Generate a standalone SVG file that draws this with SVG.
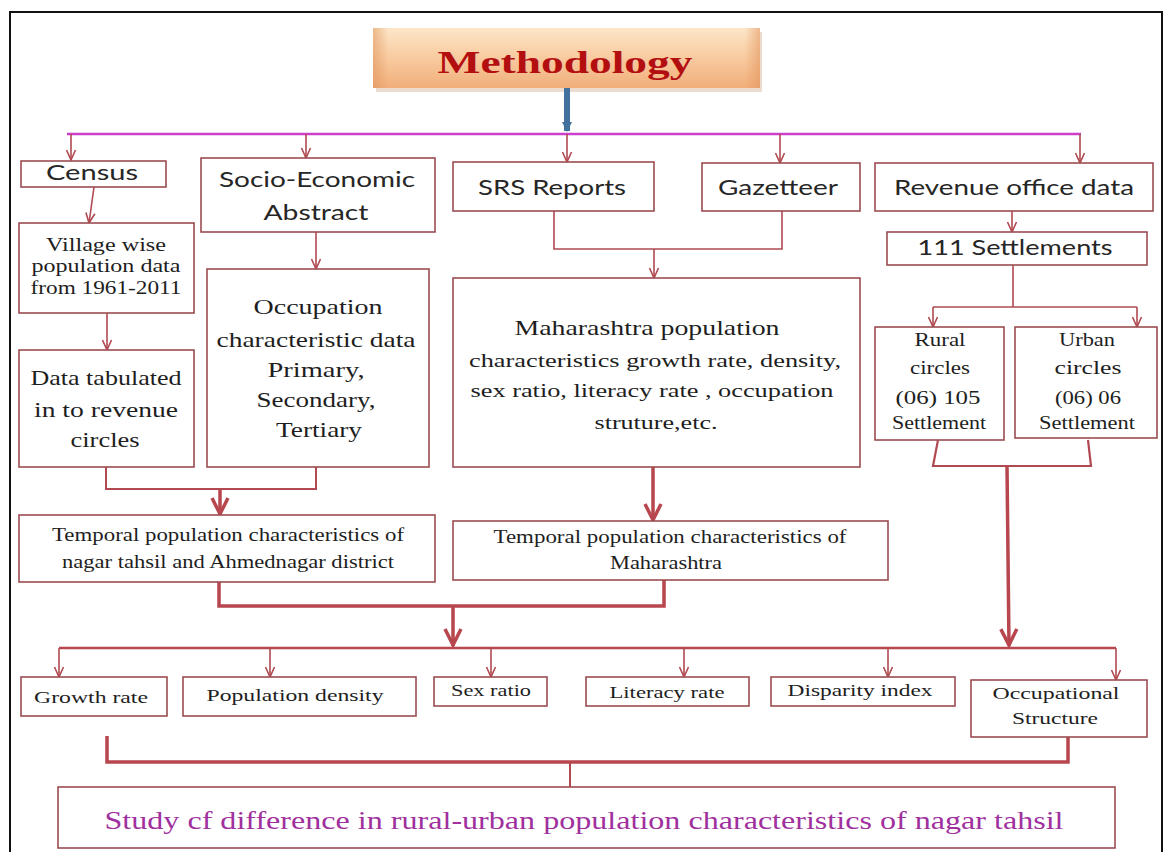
<svg xmlns="http://www.w3.org/2000/svg" width="1166" height="852" viewBox="0 0 1166 852">
<defs>
<linearGradient id="gMeth" x1="0" y1="0" x2="0" y2="1">
<stop offset="0" stop-color="#fde6c8"/>
<stop offset="0.45" stop-color="#f9cda3"/>
<stop offset="1" stop-color="#f1ae7a"/>
</linearGradient>
<linearGradient id="gBevel" x1="0" y1="0" x2="1" y2="0">
<stop offset="0" stop-color="#e0935c" stop-opacity="0.55"/>
<stop offset="0.04" stop-color="#e0935c" stop-opacity="0"/>
<stop offset="0.96" stop-color="#e0935c" stop-opacity="0"/>
<stop offset="1" stop-color="#e0935c" stop-opacity="0.55"/>
</linearGradient>
<marker id="ah" markerWidth="12" markerHeight="12" viewBox="0 0 12 12" refX="11" refY="6" orient="auto" markerUnits="userSpaceOnUse">
<path d="M1,1.5 L11,6 L1,10.5" fill="none" stroke="#b04a50" stroke-width="1.6"/>
</marker>
<marker id="ahT" markerWidth="22" markerHeight="22" viewBox="0 0 22 22" refX="20" refY="11" orient="auto" markerUnits="userSpaceOnUse">
<path d="M3,3 L19,11 L3,19" fill="none" stroke="#b8464e" stroke-width="3.5"/>
</marker>
<marker id="ahB" markerWidth="12" markerHeight="12" viewBox="0 0 12 12" refX="10" refY="6" orient="auto" markerUnits="userSpaceOnUse">
<path d="M1,1 L11,6 L1,11 Z" fill="#41719c"/>
</marker>
</defs>
<style>
.box{fill:#ffffff;stroke:#9c4d52;stroke-width:1.6}
.sans{font-family:Lato,"Liberation Sans",sans-serif;fill:#262626;text-anchor:middle}
.serif{font-family:"Liberation Serif",serif;fill:#1e1e1e;text-anchor:middle}
.c{fill:none;stroke:#b04a50;stroke-width:1.6}
.ct{fill:none;stroke:#b8464e;stroke-width:3.5}
.cm{fill:none;stroke:#b8464e;stroke-width:2.5}
</style>
<rect x="0" y="0" width="1166" height="852" fill="#ffffff"/>
<rect x="10" y="12" width="1152" height="850" fill="none" stroke="#111111" stroke-width="2"/>

<g id="methodology">
<rect x="376" y="32" width="386" height="60" fill="#d9b9a0" opacity="0.5"/>
<rect x="373" y="28" width="387" height="60" fill="url(#gMeth)"/>
<rect x="373" y="28" width="387" height="60" fill="url(#gBevel)"/>
<text x="565" y="73" font-family="'Liberation Serif',serif" font-weight="bold" font-size="32" fill="#b40f10" text-anchor="middle" textLength="255" lengthAdjust="spacingAndGlyphs">Methodology</text>
</g>

<g id="connectors">
<line x1="567" y1="88" x2="567" y2="131" stroke="#41719c" stroke-width="6" marker-end="url(#ahB)"/>
<line x1="67" y1="134" x2="1081" y2="134" stroke="#cc3fcc" stroke-width="2.5"/>
<path class="c" d="M71,134 V160" marker-end="url(#ah)"/>
<path class="c" d="M306,134 V158" marker-end="url(#ah)"/>
<path class="c" d="M567,134 V162" marker-end="url(#ah)"/>
<path class="c" d="M780,134 V163" marker-end="url(#ah)"/>
<path class="c" d="M1080,134 V163" marker-end="url(#ah)"/>
<path class="c" d="M94,187 L89,223" marker-end="url(#ah)"/>
<path class="c" d="M107,313 V350" marker-end="url(#ah)"/>
<path class="c" d="M316,232 V269" marker-end="url(#ah)"/>
<path class="c" d="M554,211 V249 H782 V211"/>
<path class="c" d="M654,249 V278" marker-end="url(#ah)"/>
<path class="c" d="M1012,211 V232" marker-end="url(#ah)"/>
<path class="c" d="M1013,265 V307"/>
<path class="c" d="M933,307 H1137"/>
<path class="c" d="M933,307 V327" marker-end="url(#ah)"/>
<path class="c" d="M1137,307 V327" marker-end="url(#ah)"/>
<path class="c" d="M106,467 V489 H316 V467" style="stroke-width:2"/>
<path class="ct" d="M220,489 V515" marker-end="url(#ahT)"/>
<path class="ct" d="M653,467 V521" marker-end="url(#ahT)"/>
<path class="c" d="M938,440 L933,466 H1091 L1088,440" style="stroke-width:2.2"/>
<path class="ct" d="M1007,466 L1009,646" marker-end="url(#ahT)"/>
<path class="ct" d="M219,582 V606 H664 V580"/>
<path class="ct" d="M453,606 V646" marker-end="url(#ahT)"/>
<path class="cm" d="M59,648 H1116"/>
<path class="c" d="M59,648 V677" marker-end="url(#ah)"/>
<path class="c" d="M270,648 V677" marker-end="url(#ah)"/>
<path class="c" d="M491,648 V677" marker-end="url(#ah)"/>
<path class="c" d="M684,648 V677" marker-end="url(#ah)"/>
<path class="c" d="M888,648 V677" marker-end="url(#ah)"/>
<path class="c" d="M1116,648 V680" marker-end="url(#ah)"/>
<path class="ct" d="M107,736 V762 H1068 V737"/>
<path class="c" d="M570,762 V788" style="stroke-width:2"/>
</g>

<g id="census"><rect class="box" x="21" y="161" width="145" height="26"/><text class="sans" x="92" y="180" font-size="21" textLength="92" lengthAdjust="spacingAndGlyphs">Census</text></g>
<g id="socio"><rect class="box" x="201" y="158" width="234" height="74"/><text class="sans" x="317" y="187" font-size="21" textLength="196" lengthAdjust="spacingAndGlyphs">Socio-Economic</text><text class="sans" x="316" y="220" font-size="21" textLength="105" lengthAdjust="spacingAndGlyphs">Abstract</text></g>
<g id="srs"><rect class="box" x="453" y="162" width="201" height="49"/><text class="sans" x="552" y="195" font-size="21" textLength="148" lengthAdjust="spacingAndGlyphs">SRS Reports</text></g>
<g id="gazetteer"><rect class="box" x="702" y="163" width="158" height="48"/><text class="sans" x="778" y="195" font-size="21" textLength="120" lengthAdjust="spacingAndGlyphs">Gazetteer</text></g>
<g id="revenue"><rect class="box" x="875" y="163" width="278" height="48"/><text class="sans" x="1014" y="195" font-size="21" textLength="240" lengthAdjust="spacingAndGlyphs">Revenue office data</text></g>
<g id="settlements"><rect class="box" x="887" y="232" width="260" height="33"/><text class="sans" x="1015" y="255" font-size="21" textLength="195" lengthAdjust="spacingAndGlyphs">111 Settlements</text></g>

<g id="village"><rect class="box" x="19" y="223" width="175" height="90"/>
<text class="serif" x="106" y="251" font-size="18" textLength="120" lengthAdjust="spacingAndGlyphs">Village wise</text>
<text class="serif" x="106" y="272" font-size="18" textLength="149" lengthAdjust="spacingAndGlyphs">population data</text>
<text class="serif" x="106" y="294" font-size="18" textLength="151" lengthAdjust="spacingAndGlyphs">from 1961-2011</text></g>

<g id="tabulated"><rect class="box" x="19" y="350" width="175" height="117"/>
<text class="serif" x="106" y="385" font-size="22" textLength="151" lengthAdjust="spacingAndGlyphs">Data tabulated</text>
<text class="serif" x="106" y="417" font-size="22" textLength="144" lengthAdjust="spacingAndGlyphs">in to revenue</text>
<text class="serif" x="105" y="447" font-size="22" textLength="69" lengthAdjust="spacingAndGlyphs">circles</text></g>

<g id="occupation"><rect class="box" x="207" y="269" width="222" height="198"/>
<text class="serif" x="318" y="314" font-size="22" textLength="129" lengthAdjust="spacingAndGlyphs">Occupation</text>
<text class="serif" x="316" y="347" font-size="22" textLength="199" lengthAdjust="spacingAndGlyphs">characteristic data</text>
<text class="serif" x="316" y="377" font-size="22" textLength="97" lengthAdjust="spacingAndGlyphs">Primary,</text>
<text class="serif" x="316" y="407" font-size="22" textLength="119" lengthAdjust="spacingAndGlyphs">Secondary,</text>
<text class="serif" x="319" y="437" font-size="22" textLength="86" lengthAdjust="spacingAndGlyphs">Tertiary</text></g>

<g id="maharashtra"><rect class="box" x="453" y="278" width="407" height="189"/>
<text class="serif" x="647" y="335" font-size="22" textLength="265" lengthAdjust="spacingAndGlyphs">Maharashtra population</text>
<text class="serif" x="655" y="367" font-size="19" textLength="372" lengthAdjust="spacingAndGlyphs">characteristics growth rate, density,</text>
<text class="serif" x="652" y="397" font-size="19" textLength="363" lengthAdjust="spacingAndGlyphs">sex ratio, literacy rate , occupation</text>
<text class="serif" x="656" y="429" font-size="19" textLength="123" lengthAdjust="spacingAndGlyphs">struture,etc.</text></g>

<g id="rural"><rect class="box" x="875" y="327" width="129" height="113"/>
<text class="serif" x="940" y="346" font-size="19" textLength="51" lengthAdjust="spacingAndGlyphs">Rural</text>
<text class="serif" x="940" y="374" font-size="19" textLength="60" lengthAdjust="spacingAndGlyphs">circles</text>
<text class="serif" x="938" y="404" font-size="19" textLength="85" lengthAdjust="spacingAndGlyphs">(06) 105</text>
<text class="serif" x="939" y="429" font-size="19" textLength="94" lengthAdjust="spacingAndGlyphs">Settlement</text></g>

<g id="urban"><rect class="box" x="1015" y="327" width="142" height="111"/>
<text class="serif" x="1087" y="346" font-size="19" textLength="56" lengthAdjust="spacingAndGlyphs">Urban</text>
<text class="serif" x="1088" y="374" font-size="19" textLength="67" lengthAdjust="spacingAndGlyphs">circles</text>
<text class="serif" x="1088" y="404" font-size="19" textLength="66" lengthAdjust="spacingAndGlyphs">(06) 06</text>
<text class="serif" x="1087" y="429" font-size="19" textLength="96" lengthAdjust="spacingAndGlyphs">Settlement</text></g>

<g id="temporal-nagar"><rect class="box" x="19" y="515" width="416" height="67"/>
<text class="serif" x="228" y="541" font-size="18" textLength="352" lengthAdjust="spacingAndGlyphs">Temporal  population characteristics of</text>
<text class="serif" x="228" y="568" font-size="18" textLength="332" lengthAdjust="spacingAndGlyphs">nagar tahsil and Ahmednagar district</text></g>

<g id="temporal-maharashtra"><rect class="box" x="453" y="521" width="435" height="59"/>
<text class="serif" x="670" y="543" font-size="18" textLength="353" lengthAdjust="spacingAndGlyphs">Temporal  population characteristics of</text>
<text class="serif" x="666" y="569" font-size="18" textLength="112" lengthAdjust="spacingAndGlyphs">Maharashtra</text></g>

<g id="growth"><rect class="box" x="21" y="677" width="146" height="39"/><text class="serif" x="91" y="703" font-size="17" textLength="114" lengthAdjust="spacingAndGlyphs">Growth rate</text></g>
<g id="density"><rect class="box" x="183" y="677" width="233" height="39"/><text class="serif" x="295" y="701" font-size="17" textLength="177" lengthAdjust="spacingAndGlyphs">Population density</text></g>
<g id="sexratio"><rect class="box" x="434" y="677" width="113" height="29"/><text class="serif" x="491" y="696" font-size="17" textLength="80" lengthAdjust="spacingAndGlyphs">Sex ratio</text></g>
<g id="literacy"><rect class="box" x="586" y="677" width="163" height="29"/><text class="serif" x="667" y="698" font-size="17" textLength="115" lengthAdjust="spacingAndGlyphs">Literacy rate</text></g>
<g id="disparity"><rect class="box" x="771" y="677" width="184" height="29"/><text class="serif" x="860" y="696" font-size="17" textLength="145" lengthAdjust="spacingAndGlyphs">Disparity index</text></g>
<g id="occupational"><rect class="box" x="971" y="680" width="176" height="57"/>
<text class="serif" x="1056" y="699" font-size="17" textLength="127" lengthAdjust="spacingAndGlyphs">Occupational</text>
<text class="serif" x="1055" y="724" font-size="17" textLength="86" lengthAdjust="spacingAndGlyphs">Structure</text></g>

<g id="study"><rect class="box" x="58" y="787" width="1057" height="61"/>
<text x="584" y="829" font-family="'Liberation Serif',serif" font-size="26" fill="#a0309e" text-anchor="middle" textLength="959" lengthAdjust="spacingAndGlyphs">Study cf difference in rural-urban population characteristics of nagar tahsil</text></g>
</svg>
